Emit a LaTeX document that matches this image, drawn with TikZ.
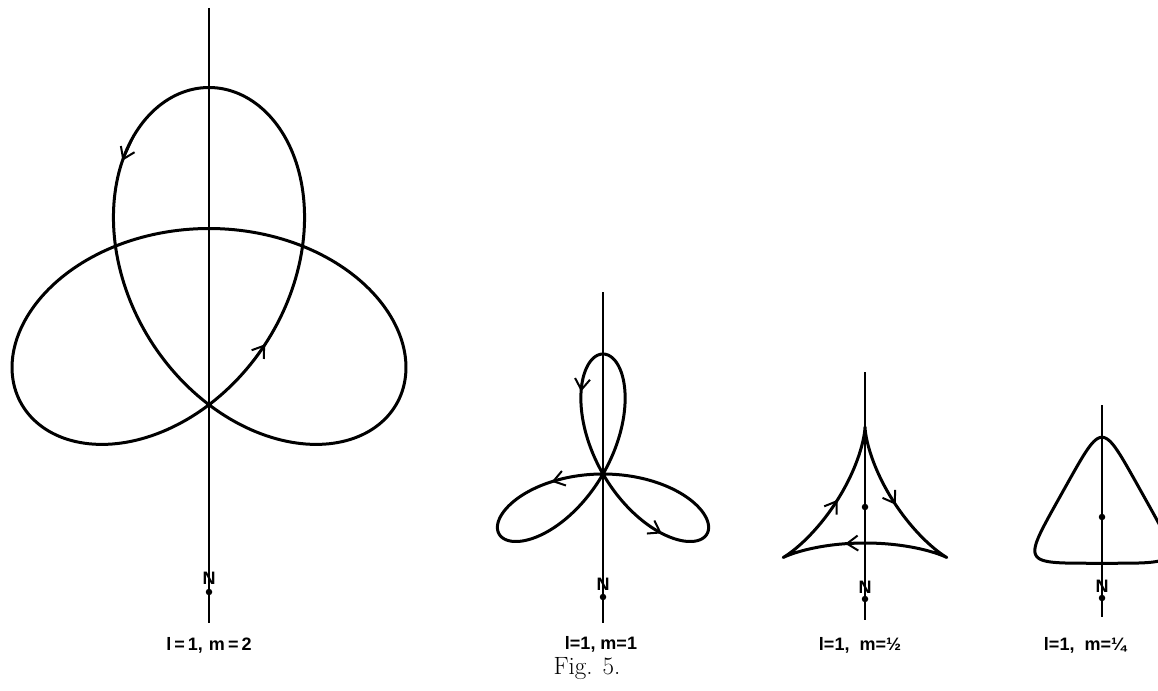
\documentclass[tikz,border=0pt]{standalone}
\usepackage{fontspec}
\newfontfamily\labfont{Liberation Sans}
\usetikzlibrary{arrows.meta}
% point on the curve z = i(e^{it} + m e^{-2it}), scaled and placed
\newcommand{\cpt}[7]{\coordinate (#1) at ({#2+#4*(-sin(#7)+#6*sin(2*(#7)))},{#3-#5*(cos(#7)+#6*cos(2*(#7)))});}
\newcommand{\hypo}[5]{\draw[curve] plot[domain=0:360,samples=361,variable=\t] ({#1+#3*(-sin(\t)+#5*sin(2*\t))},{#2-#4*(cos(\t)+#5*cos(2*\t))}) -- cycle;}
\begin{document}
\begin{tikzpicture}[x=1pt,y=-1pt,
  curve/.style={line width=3pt, line join=round},
  axis/.style={line width=2.8pt},
  arr/.style={line width=2pt, -{Straight Barb[length=11pt,width=15pt,line width=2pt]}},
  lab/.style={font=\labfont\bfseries\fontsize{18}{20}\selectfont, inner sep=0pt},
  nmark/.style={font=\labfont\bfseries\fontsize{18}{20}\selectfont, inner sep=0pt},
  dotm/.style={fill=black, circle, inner sep=0pt, minimum size=6.5pt}]
\useasboundingbox (0,0) rectangle (1158,690);
\fill[white] (0,0) rectangle (1158,690);
\clip (0,0) rectangle (1158,690);

% ---------- Figure 1 : l=1, m=2 ----------
\coordinate (ax1t) at (209,8);
\coordinate (ax1b) at (209,623);
\draw[axis] (ax1t) -- (ax1b);
\hypo{209}{299}{72}{70.5}{2}
\cpt{a1s}{209}{299}{72}{70.5}{2}{-22.9}
\cpt{a1e}{209}{299}{72}{70.5}{2}{-28.6}
\draw[arr] (a1s) -- (a1e);
\cpt{b1s}{209}{299}{72}{70.5}{2}{65.3}
\cpt{b1e}{209}{299}{72}{70.5}{2}{61.9}
\draw[arr] (b1s) -- (b1e);
\node[nmark] (n1) at (209,578) {N};
\node[dotm] (d1) at (209,592) {};
\node[lab] (lab1) at (209,645) {l\,=\,1,\,\,m\,=\,2};

% ---------- Figure 2 : l=1, m=1 ----------
\coordinate (ax2t) at (603,292);
\coordinate (ax2b) at (603,623);
\draw[axis] (ax2t) -- (ax2b);
\hypo{603}{474}{60}{60}{1}
\cpt{a2s}{603}{474}{60}{60}{1}{-25.8}
\cpt{a2e}{603}{474}{60}{60}{1}{-29.8}
\draw[arr] (a2s) -- (a2e);
\cpt{b2s}{603}{474}{60}{60}{1}{-85.9}
\cpt{b2e}{603}{474}{60}{60}{1}{-89.4}
\draw[arr] (b2s) -- (b2e);
\cpt{c2s}{603}{474}{60}{60}{1}{-193.7}
\cpt{c2e}{603}{474}{60}{60}{1}{-197.1}
\draw[arr] (c2s) -- (c2e);
\node[nmark] (n2) at (603,584) {N};
\node[dotm] (d2) at (603,597) {};
\node[lab] (lab2) at (601,644) {l=1, m=1};

% ---------- Figure 3 : l=1, m=1/2 ----------
\coordinate (ax3t) at (865,372);
\coordinate (ax3b) at (865,620);
\draw[axis] (ax3t) -- (ax3b);
\hypo{865}{514}{63}{58}{0.5}
\node[dotm] (c3) at (865,507) {};
\cpt{a3s}{865}{514}{63}{58}{0.5}{65.9}
\cpt{a3e}{865}{514}{63}{58}{0.5}{60.2}
\draw[arr] (a3s) -- (a3e);
\cpt{b3s}{865}{514}{63}{58}{0.5}{-57.3}
\cpt{b3e}{865}{514}{63}{58}{0.5}{-63.0}
\draw[arr] (b3s) -- (b3e);
\cpt{e3s}{865}{514}{63}{58}{0.5}{-183.3}
\cpt{e3e}{865}{514}{63}{58}{0.5}{-189.1}
\draw[arr] (e3s) -- (e3e);
\node[nmark] (n3) at (865,587) {N};
\node[dotm] (d3) at (865,599) {};
\node[lab] (lab3) at (860,645) {l=1,\ \ m=½};

% ---------- Figure 4 : l=1, m=1/4 ----------
\coordinate (ax4t) at (1102,405);
\coordinate (ax4b) at (1102,617);
\draw[axis] (ax4t) -- (ax4b);
\hypo{1102}{516}{61}{63}{0.25}
\node[dotm] (c4) at (1102,517) {};
\node[nmark] (n4) at (1102,586) {N};
\node[dotm] (d4) at (1102,598) {};
\node[lab] (lab4) at (1085,645) {l=1,\ \ m=¼};

% ---------- caption ----------
\node[font=\fontsize{25}{28}\selectfont, inner sep=0pt] (fig) at (587,669) {Fig. 5.};
\end{tikzpicture}
\end{document}
